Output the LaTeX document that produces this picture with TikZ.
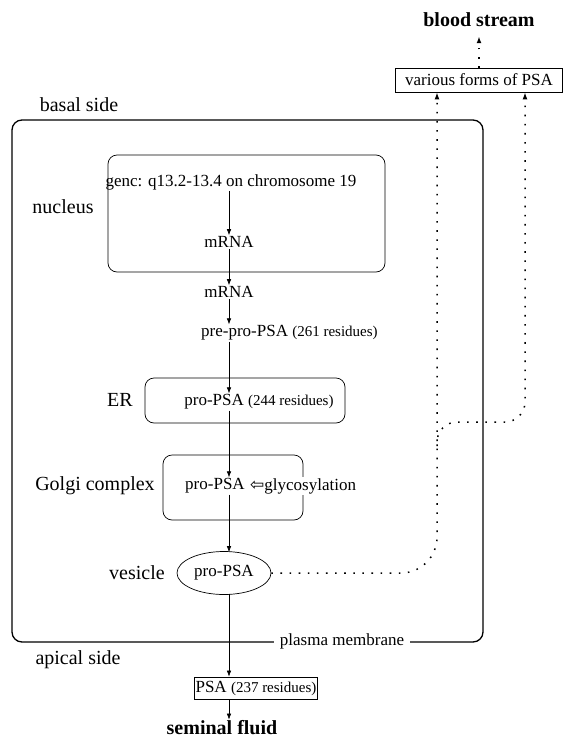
\documentclass[tikz,border=0pt]{standalone}
\usepackage{fontspec}
\setmainfont{Liberation Serif}
\newfontfamily\symfont{DejaVu Sans}
\usepackage{tikz}
\usetikzlibrary{shapes.geometric, arrows.meta, positioning, calc}

\begin{document}
\begin{tikzpicture}[x=1pt, y=-1pt,
    cell/.style={draw, rounded corners=10pt, line width=1.3pt, inner sep=0pt},
    compart/.style={draw, rounded corners=9pt, line width=0.7pt, inner sep=0pt},
    txt/.style={font=\fontsize{17}{20}\selectfont, inner sep=1pt},
    organelle/.style={font=\fontsize{20}{24}\selectfont, inner sep=1pt},
    dest/.style={font=\fontsize{20}{24}\selectfont\bfseries, inner sep=1pt},
    flow/.style={-{Latex[length=6pt,width=4.5pt]}, line width=0.6pt},
    route/.style={-{Latex[length=7pt,width=5pt]}, line width=1.5pt, dash pattern=on 1.6pt off 7.5pt}
]
\useasboundingbox (0,0) rectangle (565,742);
\newcommand{\res}[1]{{\fontsize{15}{18}\selectfont(#1 residues)}}

% cell and compartments
\node[cell, minimum width=471pt, minimum height=522pt] (cell) at (247.5,381) {};
\node[compart, minimum width=277pt, minimum height=117pt] (nucbox) at (246.5,213.5) {};
\node[compart, minimum width=200pt, minimum height=45pt] (erbox) at (245,400.5) {};
\node[compart, minimum width=140pt, minimum height=65pt] (golgibox) at (233,487.5) {};
\node[draw, ellipse, line width=0.7pt, minimum width=94pt, minimum height=43pt, inner sep=0pt] (vesicle) at (224,573) {};
\node[draw, line width=0.8pt, minimum width=123pt, minimum height=22pt, inner sep=0pt] (psabox) at (256,688) {};
\node[draw, line width=0.8pt, minimum width=167pt, minimum height=24pt, inner sep=0pt] (vfbox) at (479,80) {};

% texts
\node[txt] (gene) at (231,182) {genc: q13.2-13.4 on chromosome 19};
\node[txt] (mrnaA) at (229,242) {mRNA};
\node[txt] (mrnaB) at (229,292) {mRNA};
\node[txt, anchor=west] (prepro) at (200,333) {pre-pro-PSA \res{261}};
\node[txt] (erprot) at (259,402) {pro-PSA \res{244}};
\node[txt] (golgiprot) at (215,486) {pro-PSA};
\node[txt, anchor=west, fill=white] (glyc) at (249,486) {{\symfont\fontsize{17}{20}\selectfont ⇦}glycosylation};
\node[txt] (vesprot) at (vesicle) {pro-PSA};
\node[txt] (psa) at (psabox) {PSA \res{237}};
\node[txt] (forms) at (vfbox) {various forms of PSA};
\node[txt, fill=white, inner xsep=6pt] (pm) at (342,641) {plasma membrane};

\node[dest] (blood) at (479,20) {blood stream};
\node[dest] (seminal) at (222,728) {seminal fluid};

\node[organelle] (basal) at (79,105) {basal side};
\node[organelle] (apical) at (78,660) {apical side};
\node[organelle] (nucleus) at (63,207) {nucleus};
\node[organelle] (er) at (120,400) {ER};
\node[organelle] (golgi) at (95,486) {Golgi complex};
\node[organelle] (ves) at (137,573) {vesicle};

% synthesis path
\draw[flow] (gene.south -| mrnaA) -- (mrnaA);
\draw[flow] (mrnaA) -- (mrnaB);
\draw[flow] (mrnaB) -- (prepro.north -| mrnaB);
\draw[flow] (prepro.south -| mrnaB) -- (erprot.north -| mrnaB);
\draw[flow] (erprot.south -| mrnaB) -- (golgiprot.north -| mrnaB);
\draw[flow] (golgiprot.south -| mrnaB) -- ($(vesicle.north -| mrnaB)+(0,1)$);
\draw[flow] ($(vesicle.south -| mrnaB)+(0,-1)$) -- (psabox.north -| mrnaB);
\draw[flow] (psabox.south -| mrnaB) -- (seminal.north -| mrnaB);

% release to the blood
\coordinate (laneA) at (437,0);
\coordinate (laneB) at (525,0);
\coordinate (fork) at (437,446);
\draw[route, rounded corners=36pt] (vesicle.east) -- (vesicle.east -| laneA) -- (vfbox.south -| laneA);
\draw[route, rounded corners=20pt] (fork) -- (437,422) -- (525,422) -- (vfbox.south -| laneB);
\draw[route] (vfbox.north -| blood) -- ($(blood.south)+(0,8)$);
\end{tikzpicture}
\end{document}
